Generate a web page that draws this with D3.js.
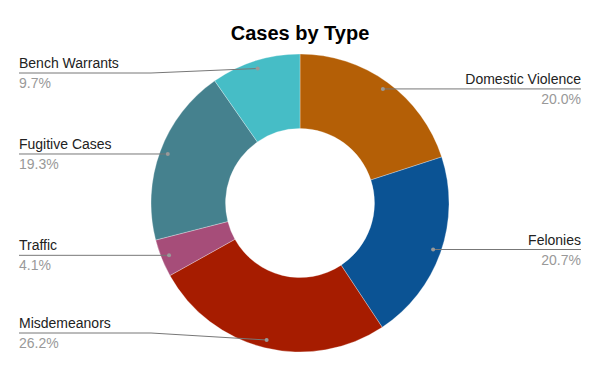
<!DOCTYPE html>
<html>
<head>
<meta charset="utf-8">
<script src="https://cdn.jsdelivr.net/npm/d3@7"></script>
<style>
  body { margin: 0; background: #fff; }
  text { font-family: "Liberation Sans", Arial, sans-serif; }
</style>
</head>
<body>
<svg id="chart" width="600" height="371"></svg>
<script>
// chart data
var categories = ['Domestic Violence', 'Felonies', 'Misdemeanors', 'Traffic', 'Fugitive Cases', 'Bench Warrants'];
var shares = [20.0, 20.7, 26.2, 4.1, 19.3, 9.7];
var colors = ['#b45f06', '#0b5394', '#a61c00', '#a64d79', '#45818e', '#46bdc6'];

var width = 600, height = 371;
var cx = 300, cy = 203;
var outer = 149, inner = 74.5;
var dotR = 141;

var svg = d3.select('#chart');

svg.append('text')
  .attr('x', width / 2)
  .attr('y', 40)
  .attr('text-anchor', 'middle')
  .style('font-size', '20px')
  .style('font-weight', 'bold')
  .attr('fill', '#000')
  .text('Cases by Type');

var data = categories.map(function(c, i) {
  return { name: c, value: shares[i], color: colors[i] };
});

var pie = d3.pie().sort(null).value(function(d) { return d.value; });
var arc = d3.arc().innerRadius(inner).outerRadius(outer);
var arcs = pie(data);

var g = svg.append('g').attr('transform', 'translate(' + cx + ',' + cy + ')');

g.selectAll('path')
  .data(arcs)
  .enter()
  .append('path')
  .attr('d', arc)
  .attr('fill', function(d) { return d.data.color; })
  .attr('stroke', '#fff')
  .attr('stroke-width', 0.3);

// labels: right side to x=581, left side from x=19
var labelY = d3.scaleLinear().domain([73, 333]).range([73, 333]).clamp(true);

arcs.forEach(function(d) {
  var mid = (d.startAngle + d.endAngle) / 2;
  var px = cx + dotR * Math.sin(mid);
  var py = cy - dotR * Math.cos(mid);
  var right = px > cx;
  var ly = labelY(py);
  var knee = right ? cx + outer : cx - outer;
  var end = right ? 581 : 19;

  svg.append('path')
    .attr('d', 'M' + end + ',' + ly + 'L' + knee + ',' + ly + 'L' + px + ',' + py)
    .attr('fill', 'none')
    .attr('stroke', '#777')
    .attr('stroke-width', 1);

  svg.append('circle')
    .attr('cx', px)
    .attr('cy', py)
    .attr('r', 2)
    .attr('fill', '#999');

  svg.append('text')
    .attr('x', end)
    .attr('y', ly - 5)
    .attr('text-anchor', right ? 'end' : 'start')
    .style('font-size', '14px')
    .attr('fill', '#222')
    .text(d.data.name);

  svg.append('text')
    .attr('x', end)
    .attr('y', ly + 15)
    .attr('text-anchor', right ? 'end' : 'start')
    .style('font-size', '14px')
    .attr('fill', '#999')
    .text(d.data.value.toFixed(1) + '%');
});
</script>
</body>
</html>
